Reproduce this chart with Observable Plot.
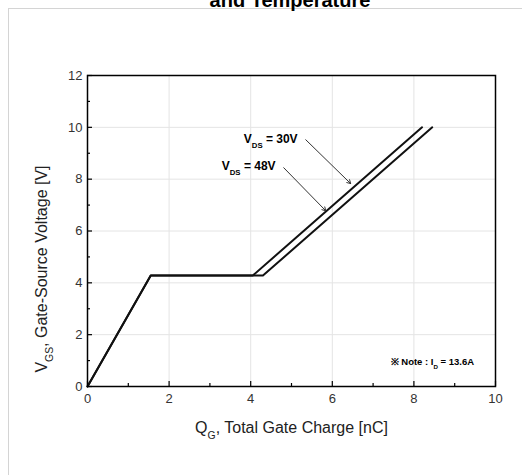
<!DOCTYPE html>
<html>
<head>
<meta charset="utf-8">
<script src="https://cdn.jsdelivr.net/npm/d3@7"></script>
<script src="https://cdn.jsdelivr.net/npm/@observablehq/plot@0.6"></script>
<style>
  html, body { margin: 0; padding: 0; background: #fff; overflow: hidden; }
  #wrap { position: relative; width: 522px; height: 475px; overflow: hidden; background: #fff; }
  #title { position: absolute; left: 0; width: 580px; top: -10px; text-align: center;
           font: bold 20px 'Liberation Sans', Arial, sans-serif; line-height: 20px; color: #000; }
  #box { position: absolute; left: 8px; top: 8px; width: 700px; height: 700px;
         border-left: 1px solid #d4d4d4; border-top: 1px solid #d4d4d4; }
  #chart { position: absolute; left: 0; top: 0; }
</style>
</head>
<body>
<div id="wrap">
  <div id="box"></div>
  <div id="chart"></div>
  <div id="title">and Temperature</div>
</div>
<script>
// ---- data ----
const xTicksMajor = [0, 2, 4, 6, 8, 10];
const xTicksMinor = [1, 3, 5, 7, 9];
const yTicksMajor = [0, 2, 4, 6, 8, 10, 12];
const yTicksMinor = [1, 3, 5, 7, 9, 11];
const xGrid = [2, 4, 6, 8];
const yGrid = [2, 4, 6, 8, 10];

// V_DS = 30V curve
const qg30 = [0, 1.55, 4.05, 8.2];
const vgs30 = [0, 4.28, 4.28, 10.0];
// V_DS = 48V curve
const qg48 = [0, 1.55, 4.3, 8.45];
const vgs48 = [0, 4.28, 4.28, 10.0];

// annotations
const labelText = ["V_{DS} = 30V", "V_{DS} = 48V"];
const labelX = [5.15, 4.61];
const labelY = [9.56, 8.52];
const arrowX1 = [5.35, 4.81];
const arrowY1 = [9.52, 8.44];
const arrowX2 = [6.45, 5.84];
const arrowY2 = [7.83, 6.78];
const noteText = ["※ Note : I_{D} = 13.6A"];
const noteX = [7.43];
const noteY = [0.93];

const xLabel = "Q_{G}, Total Gate Charge [nC]";
const yLabel = "V_{GS}, Gate-Source Voltage [V]";

// ---- build ----
const W = 522, H = 475, mL = 87, mR = 27, mT = 75, mB = 89;
const innerW = W - mL - mR, innerH = H - mT - mB;

const rows = [
  ...qg30.map((q, i) => ({q, v: vgs30[i], s: "30V"})),
  ...qg48.map((q, i) => ({q, v: vgs48[i], s: "48V"}))
];
const labels = labelText.map((t, i) => ({t, x: labelX[i], y: labelY[i]}));
const arrows = arrowX1.map((x1, i) => ({x1, y1: arrowY1[i], x2: arrowX2[i], y2: arrowY2[i]}));
const notes = noteText.map((t, i) => ({t, x: noteX[i], y: noteY[i]}));

const font = "'Liberation Sans', Arial, sans-serif";

const chart = Plot.plot({
  width: W, height: H,
  marginLeft: mL, marginRight: mR, marginTop: mT, marginBottom: mB,
  style: {fontFamily: font, background: "transparent", color: "#333", overflow: "visible"},
  x: {domain: [0, 10]},
  y: {domain: [0, 12]},
  marks: [
    Plot.gridX(xGrid, {stroke: "#e4e4e4", strokeOpacity: 1}),
    Plot.gridY(yGrid, {stroke: "#e4e4e4", strokeOpacity: 1}),
    Plot.axisX(xTicksMajor, {tickSize: 0, tickPadding: 7, fontSize: 13, label: null, fill: "#333"}),
    Plot.axisY(yTicksMajor, {tickSize: 0, tickPadding: 5, fontSize: 13, label: null, fill: "#333"}),
    Plot.tickX(xTicksMajor, {x: d => d, insetTop: innerH - 5, stroke: "#000", strokeWidth: 1.2}),
    Plot.tickX(xTicksMinor, {x: d => d, insetTop: innerH - 3, stroke: "#000", strokeWidth: 1.2}),
    Plot.tickY(yTicksMajor, {y: d => d, insetRight: innerW - 5, stroke: "#000", strokeWidth: 1.2}),
    Plot.tickY(yTicksMinor, {y: d => d, insetRight: innerW - 3, stroke: "#000", strokeWidth: 1.2}),
    Plot.line(rows, {x: "q", y: "v", z: "s", stroke: "#111", strokeWidth: 2}),
    Plot.frame({stroke: "#000", strokeWidth: 1.5}),
    Plot.arrow(arrows, {x1: "x1", y1: "y1", x2: "x2", y2: "y2", stroke: "#333", strokeWidth: 1, headLength: 6}),
    Plot.text(labels, {x: "x", y: "y", text: "t", textAnchor: "end", fontSize: 12, fontWeight: "bold", fill: "#000"}),
    Plot.text(notes, {x: "x", y: "y", text: "t", textAnchor: "start", fontSize: 9.5, fontWeight: "bold", fill: "#000"}),
    Plot.text([xLabel], {text: d => d, frameAnchor: "bottom", dy: 46, fontSize: 16, fill: "#222"}),
    Plot.text([yLabel], {text: d => d, frameAnchor: "left", textAnchor: "middle", rotate: -90, dx: -46, dy: 38, fontSize: 16, fill: "#222"})
  ]
});

// subscripts: replace _{...} with tspans
d3.select(chart).selectAll("text").each(function() {
  const t = this.textContent;
  if (!t.includes("_{")) return;
  const parts = t.split(/(_\{[^}]*\})/);
  this.textContent = "";
  for (const p of parts) {
    if (!p) continue;
    const m = p.match(/^_\{(.*)\}$/);
    const ts = d3.select(this).append("tspan").text(m ? m[1] : p);
    if (m) ts.attr("baseline-shift", "sub").attr("font-size", "0.65em");
  }
});

document.getElementById("chart").appendChild(chart);
</script>
</body>
</html>
